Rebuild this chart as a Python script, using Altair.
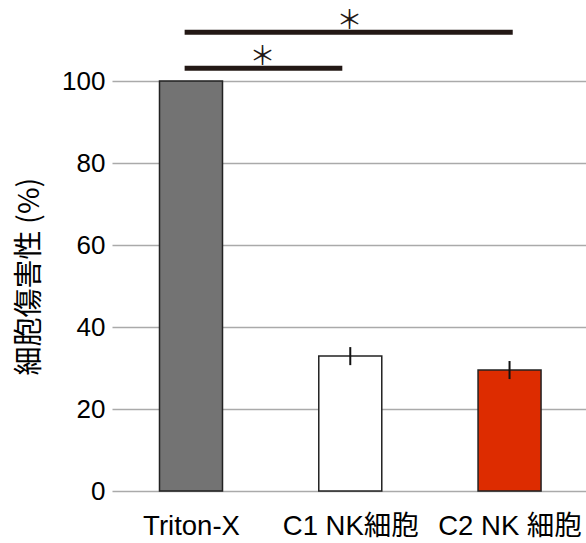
import altair as alt
import pandas as pd

# --- data ---
categories = ["Triton-X", "C1 NK細胞", "C2 NK 細胞"]
positions = [0, 1, 2]
values = [100, 32.9, 29.5]
errors = [0, 2.2, 2.2]
bar_colors = ["#737373", "#ffffff", "#dd2c00"]

# significance brackets (start, end in category units; height in %)
sig_x1 = [-0.04, -0.04]
sig_x2 = [2.02, 0.95]
sig_y = [111.9, 103.1]
star_x = [0.995, 0.449]
star_y = [114.6, 105.9]
star_text = ["＊", "＊"]

y_ticks = [0, 20, 40, 60, 80, 100]

df = pd.DataFrame({"cat": categories, "pos": positions, "val": values, "err": errors})
sig = pd.DataFrame({"x1": sig_x1, "x2": sig_x2, "y": sig_y})
stars = pd.DataFrame({"x": star_x, "y": star_y, "t": star_text})

label_expr = "[" + ",".join(f"'{c}'" for c in categories) + "][datum.value]"

LATIN = "Liberation Sans, Arial, Noto Sans CJK JP, sans-serif"

xscale = alt.Scale(domain=[-0.496, 2.48], nice=False, zero=False, padding=0)
yscale = alt.Scale(domain=[0, 119.27], nice=False, zero=False, padding=0)

x_axis = alt.Axis(values=positions, labelExpr=label_expr, grid=False, domain=False,
                  ticks=False, tickSize=0, title=None, labelFontSize=27.5,
                  labelPadding=21, labelColor="#000", labelFont=LATIN)
y_axis = alt.Axis(values=y_ticks, grid=True, gridColor="#aaaaaa", gridWidth=1.5,
                  domain=False, ticks=False, tickSize=0, labelFontSize=26,
                  labelPadding=7, labelColor="#000", labelFont=LATIN,
                  title="細胞傷害性 (%)", titleFontSize=29, titleFont="Noto Sans CJK JP",
                  titleFontWeight="normal", titleColor="#000", titleX=-83, titleY=274,
                  titleAlign="center", titleBaseline="middle", titleAngle=-90)

bars = alt.Chart(df).mark_bar(size=63, stroke="#222222", strokeWidth=1.5).encode(
    x=alt.X("pos:Q", scale=xscale, axis=x_axis),
    y=alt.Y("val:Q", scale=yscale, axis=y_axis),
    color=alt.Color("cat:N", scale=alt.Scale(domain=categories, range=bar_colors), legend=None),
)

errbars = alt.Chart(df).transform_filter("datum.err > 0").transform_calculate(
    lo="datum.val - datum.err", hi="datum.val + datum.err"
).mark_rule(color="#111111", strokeWidth=2).encode(
    x=alt.X("pos:Q", scale=xscale),
    y=alt.Y("lo:Q", scale=yscale),
    y2="hi:Q",
)

sig_lines = alt.Chart(sig).mark_rule(color="#231815", strokeWidth=5, strokeCap="butt").encode(
    x=alt.X("x1:Q", scale=xscale),
    x2="x2:Q",
    y=alt.Y("y:Q", scale=yscale),
)

star_marks = alt.Chart(stars).mark_text(font="Noto Sans CJK JP", fontSize=26,
                                        baseline="middle", align="center",
                                        color="#231815", fontWeight="normal").encode(
    x=alt.X("x:Q", scale=xscale),
    y=alt.Y("y:Q", scale=yscale),
    text="t:N",
)

chart = alt.layer(bars, errbars, sig_lines, star_marks).properties(
    width=474, height=489,
    autosize=alt.AutoSizeParams(type="none"),
    padding={"left": 112, "top": 2, "right": 0, "bottom": 52},
).configure_view(stroke=None)

chart.save("out.html", embed_options={"renderer": "svg", "actions": False})
